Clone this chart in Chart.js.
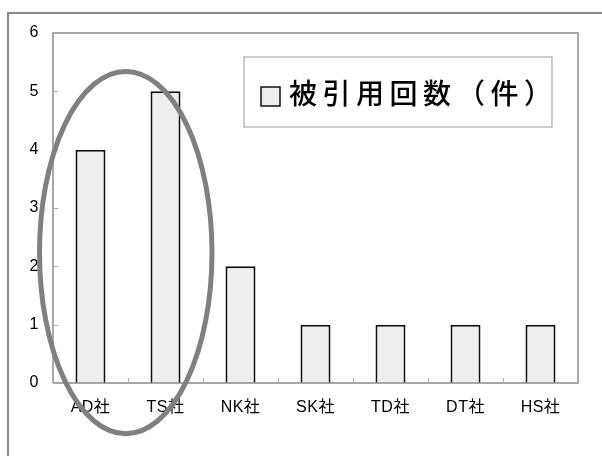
<!DOCTYPE html>
<html><head><meta charset="utf-8">
<script src="https://cdn.jsdelivr.net/npm/chart.js@4"></script>
<style>html,body{margin:0;padding:0;background:#fff}#w{width:602px;height:456px}</style>
</head><body><div id="w"><canvas id="c" width="602" height="456"></canvas></div>
<script>
const categories = ["AD社","TS社","NK社","SK社","TD社","DT社","HS社"];
const citations = [4,5,2,1,1,1,1];
const seriesLabel = "被引用回数 （件）";
const yTicks = [0,1,2,3,4,5,6];
const FONT = "'Liberation Sans', Arial, 'Noto Sans CJK JP', sans-serif";

const deco = {
  id:'deco',
  beforeDraw(chart){
    const ctx = chart.ctx;
    ctx.fillStyle='#fff'; ctx.fillRect(0,0,chart.width,chart.height);
    ctx.strokeStyle='#8a8a8a'; ctx.lineWidth=2;
    ctx.strokeRect(8,13,chart.width+20,chart.height+20);
    ctx.letterSpacing='0.5px';
  },
  afterDatasetsDraw(chart){
    const ctx = chart.ctx, a = chart.chartArea, xs = chart.scales.x, ys = chart.scales.y;
    ctx.save();
    // plot frame
    ctx.strokeStyle='#8c8c8c'; ctx.lineWidth=1.5;
    ctx.beginPath();
    ctx.moveTo(a.left,a.bottom); ctx.lineTo(a.left,a.top); ctx.lineTo(a.right,a.top); ctx.lineTo(a.right,a.bottom); ctx.lineTo(a.left,a.bottom);
    ctx.stroke();
    // small ticks
    ctx.strokeStyle='#b0b0b0'; ctx.lineWidth=1;
    const step = (xs.getPixelForValue(1)-xs.getPixelForValue(0));
    for(let i=1;i<categories.length;i++){
      const x = Math.round(xs.getPixelForValue(i)-step/2)+0.5;
      ctx.beginPath(); ctx.moveTo(x,a.bottom); ctx.lineTo(x,a.bottom-5); ctx.stroke();
    }
    yTicks.forEach(v=>{ if(v===0||v===6) return;
      const y = Math.round(ys.getPixelForValue(v))+0.5;
      ctx.beginPath(); ctx.moveTo(a.left,y); ctx.lineTo(a.left+5,y); ctx.stroke();
    });
    // legend
    const lx=244, ly=57, lw=308, lh=70;
    ctx.strokeStyle='#bdbdbd'; ctx.lineWidth=1.5;
    ctx.fillStyle='#fff'; ctx.fillRect(lx,ly,lw,lh); ctx.strokeRect(lx,ly,lw,lh);
    ctx.fillStyle='#eeeeee'; ctx.fillRect(261,87,19,19);
    ctx.strokeStyle='#111'; ctx.lineWidth=1.5; ctx.strokeRect(261,87,19,19);
    ctx.fillStyle='#000'; ctx.font="500 28px 'Noto Sans CJK JP', sans-serif";
    ctx.textBaseline='middle'; ctx.textAlign='left';
    const parts = chart.data.datasets[0].label.split(' ');
    ctx.letterSpacing='5.5px';
    ctx.fillText(parts[0], 289, 93);
    ctx.fillText(parts[1], 457, 93);
    ctx.letterSpacing='0px';
    // ellipse annotation around first two categories
    const cx = (xs.getPixelForValue(0)+xs.getPixelForValue(1))/2 - step*0.03;
    const yTop = ys.getPixelForValue(5.34), yBot = ys.getPixelForValue(-0.87);
    const rx = step*1.15;
    ctx.strokeStyle='#808080'; ctx.lineWidth=5;
    ctx.beginPath(); ctx.ellipse(cx,(yTop+yBot)/2,rx,(yBot-yTop)/2,0,0,Math.PI*2); ctx.stroke();
    ctx.restore();
  }
};

new Chart(document.getElementById('c'),{
  type:'bar',
  data:{labels:categories,datasets:[{label:seriesLabel,data:citations,backgroundColor:'#eeeeee',borderColor:'#111',borderWidth:2,barPercentage:0.4,categoryPercentage:1}]},
  options:{
    responsive:false,animation:false,
    layout:{padding:{left:0,top:33,right:24,bottom:0}},
    plugins:{legend:{display:false},tooltip:{enabled:false}},
    scales:{
      x:{grid:{display:false,drawTicks:false},border:{display:false},
         ticks:{color:'#000',padding:15,font:{family:FONT,size:16}},
         afterFit(s){s.height=73;}},
      y:{min:0,max:6,grid:{display:false,drawTicks:false},border:{display:false},
         ticks:{stepSize:1,color:'#000',padding:14,font:{family:FONT,size:16}},
         afterFit(s){s.width=53;}}
    }
  },
  plugins:[deco]
});
</script></body></html>
